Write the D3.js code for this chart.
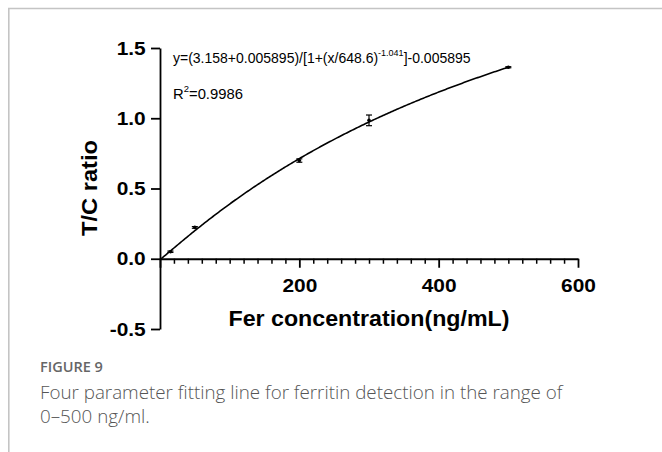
<!DOCTYPE html>
<html>
<head>
<meta charset="utf-8">
<script src="https://cdn.jsdelivr.net/npm/d3@7"></script>
<style>
  html, body { margin: 0; padding: 0; background: #fff; }
  svg { display: block; }
</style>
</head>
<body>
<svg id="chart" width="662" height="452"></svg>
<script>
// Calibration standards: ferritin concentration (ng/mL) vs. T/C ratio
const concentrations = [15, 50, 200, 300, 500];
const tcRatio = [0.05, 0.223, 0.699, 0.985, 1.363];
const tcError = [0.005, 0.006, 0.012, 0.038, 0.004];

// Four-parameter logistic fit parameters
const fitTop = 3.158;
const fitBottom = -0.005895;
const fitEC50 = 648.6;
const fitSlope = -1.041;

const xTicks = [0, 200, 400, 600];
const yTicks = [-0.5, 0, 0.5, 1.0, 1.5];

const svg = d3.select("#chart");

// card frame (top and left edges)
svg.append("line").attr("x1", 8).attr("x2", 662).attr("y1", 8.5).attr("y2", 8.5)
  .attr("stroke", "#c4c4c4").attr("stroke-width", 1.6);
svg.append("line").attr("x1", 8.8).attr("x2", 8.8).attr("y1", 8).attr("y2", 452)
  .attr("stroke", "#c4c4c4").attr("stroke-width", 1.6);

const x = d3.scaleLinear().domain([0, 600]).range([160, 578]);
const y = d3.scaleLinear().domain([-0.5, 1.5]).range([329, 48]);

const axisFont = "'Liberation Sans', Arial, sans-serif";
const wide = "scale(1.1,1)";

// y axis
const yAxis = svg.append("g")
  .attr("transform", `translate(${x(0)},0)`)
  .call(d3.axisLeft(y).tickValues(yTicks).tickSizeInner(9).tickSizeOuter(0)
    .tickPadding(4).tickFormat(d => d.toFixed(1)));
yAxis.select(".domain").attr("stroke-width", 1.8);
yAxis.selectAll(".tick line").attr("stroke-width", 1.8);
yAxis.selectAll(".tick text").attr("font-family", axisFont).attr("font-size", 19)
  .attr("font-weight", "bold").attr("fill", "#000").attr("transform", wide);

// x axis: minor ticks every 20, major at 0/200/400/600
const xAxisMinor = svg.append("g")
  .attr("transform", `translate(0,${y(0)})`)
  .call(d3.axisBottom(x).tickValues(d3.range(0, 601, 20).filter(v => v % 200 !== 0))
    .tickSize(5).tickFormat(""));
xAxisMinor.select(".domain").remove();
xAxisMinor.selectAll(".tick line").attr("stroke-width", 1.5);

const xAxis = svg.append("g")
  .attr("transform", `translate(0,${y(0)})`)
  .call(d3.axisBottom(x).tickValues(xTicks).tickSizeInner(9).tickSizeOuter(0)
    .tickPadding(11).tickFormat(d => d === 0 ? "" : d));
xAxis.select(".domain").attr("stroke-width", 1.8);
xAxis.selectAll(".tick line").attr("stroke-width", 1.8);
xAxis.selectAll(".tick text").attr("font-family", axisFont).attr("font-size", 19)
  .attr("font-weight", "bold").attr("fill", "#000").attr("transform", wide);

// axis titles
svg.append("text")
  .attr("transform", `translate(369,326) scale(1.08,1)`)
  .attr("text-anchor", "middle")
  .attr("font-family", axisFont).attr("font-size", 21.5).attr("font-weight", "bold")
  .text("Fer concentration(ng/mL)");

svg.append("text")
  .attr("transform", `translate(97,188) rotate(-90) scale(1.1,1)`)
  .attr("text-anchor", "middle")
  .attr("font-family", axisFont).attr("font-size", 21.5).attr("font-weight", "bold")
  .text("T/C ratio");

// fitted curve
const fit = c => (fitTop - fitBottom) / (1 + Math.pow(c / fitEC50, fitSlope)) + fitBottom;
const curvePts = d3.range(0, 501, 2).map(c => [c, c === 0 ? 0 : fit(c)]);
svg.append("path")
  .datum(curvePts)
  .attr("fill", "none").attr("stroke", "#000").attr("stroke-width", 1.6)
  .attr("d", d3.line().x(d => x(d[0])).y(d => y(Math.max(d[1], 0))));

// data points with error bars
const pts = concentrations.map((c, i) => ({ c, v: tcRatio[i], e: tcError[i] }));
const g = svg.append("g");
g.selectAll("line.err").data(pts).join("line")
  .attr("x1", d => x(d.c)).attr("x2", d => x(d.c))
  .attr("y1", d => y(d.v - d.e)).attr("y2", d => y(d.v + d.e))
  .attr("stroke", "#000").attr("stroke-width", 1.2);
g.selectAll("line.capT").data(pts).join("line")
  .attr("x1", d => x(d.c) - 3).attr("x2", d => x(d.c) + 3)
  .attr("y1", d => y(d.v + d.e)).attr("y2", d => y(d.v + d.e))
  .attr("stroke", "#000").attr("stroke-width", 1.2);
g.selectAll("line.capB").data(pts).join("line")
  .attr("x1", d => x(d.c) - 3).attr("x2", d => x(d.c) + 3)
  .attr("y1", d => y(d.v - d.e)).attr("y2", d => y(d.v - d.e))
  .attr("stroke", "#000").attr("stroke-width", 1.2);
g.selectAll("circle").data(pts).join("circle")
  .attr("cx", d => x(d.c)).attr("cy", d => y(d.v)).attr("r", 1.8).attr("fill", "#000");

// equation and goodness of fit
const eq = svg.append("text")
  .attr("x", 173).attr("y", 63)
  .attr("font-family", axisFont).attr("font-size", 14).attr("fill", "#000");
eq.append("tspan").text(`y=(${fitTop}+${-fitBottom})/[1+(x/${fitEC50})`);
eq.append("tspan").attr("dy", -7).attr("font-size", 9).text(`${fitSlope}`);
eq.append("tspan").attr("dy", 7).text(`]${fitBottom}`);

const r2 = svg.append("text")
  .attr("x", 173).attr("y", 99)
  .attr("font-family", axisFont).attr("font-size", 14.8).attr("fill", "#000");
r2.append("tspan").text("R");
r2.append("tspan").attr("dy", -7).attr("font-size", 9.5).text("2");
r2.append("tspan").attr("dy", 7).text("=0.9986");

// caption
const capFont = "'Open Sans', 'Noto Sans', sans-serif";
svg.append("text")
  .attr("x", 40).attr("y", 372)
  .attr("font-family", capFont).attr("font-size", 14.5).attr("font-weight", 600)
  .attr("fill", "#666")
  .text("FIGURE 9");
svg.append("text")
  .attr("x", 40).attr("y", 399)
  .attr("font-family", capFont).attr("font-size", 18.8).attr("font-weight", 300)
  .attr("fill", "#555")
  .text("Four parameter fitting line for ferritin detection in the range of");
svg.append("text")
  .attr("x", 40).attr("y", 423)
  .attr("font-family", capFont).attr("font-size", 18.8).attr("font-weight", 300)
  .attr("fill", "#555")
  .text("0\u2013500 ng/ml.");
</script>
</body>
</html>
